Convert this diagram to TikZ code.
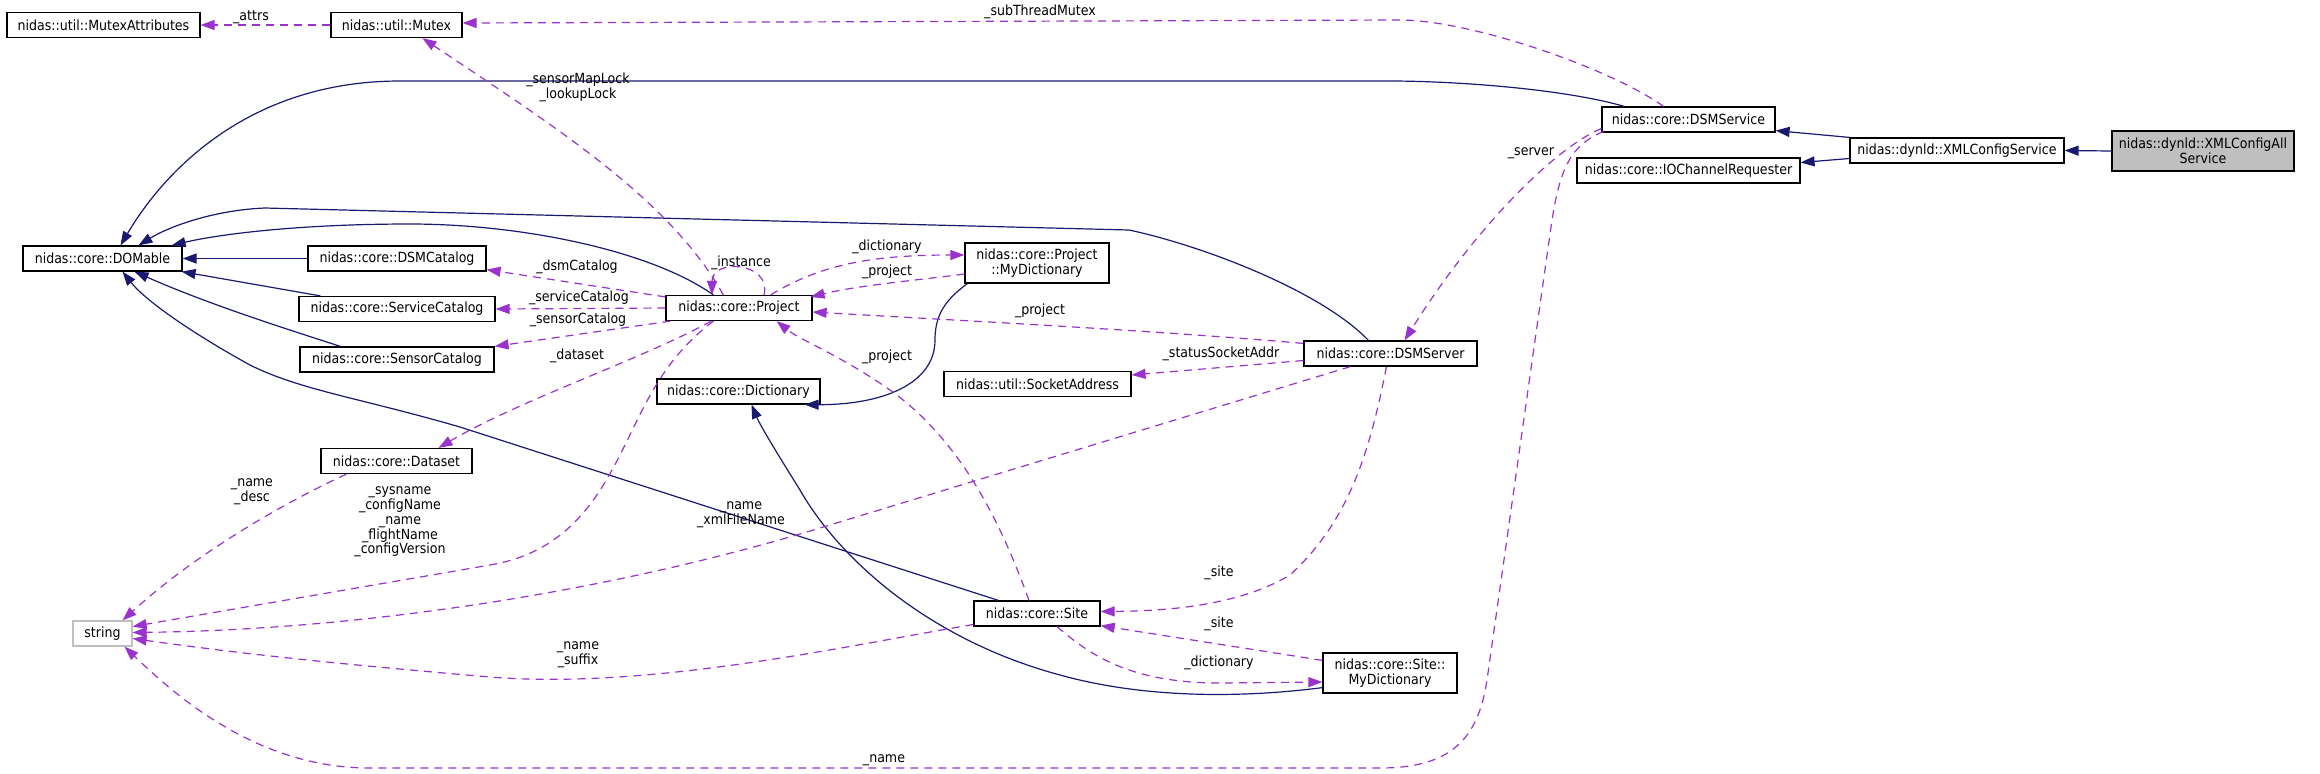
\documentclass[tikz,border=0pt]{standalone}
\usepackage{fontspec}
\setmainfont{DejaVu Sans Condensed}
\usetikzlibrary{arrows.meta,calc}
\definecolor{navy}{HTML}{191970}
\definecolor{orchid}{HTML}{9A32CD}
\definecolor{gr}{HTML}{BFBFBF}
\begin{document}
\begin{tikzpicture}[x=0.5pt,y=-0.5pt,font=\fontsize{7}{7.4}\selectfont,
  box/.style={draw=black,line width=0.6pt,fill=white,inner sep=0pt,minimum height=12.5pt,align=center},
  inh/.style={draw=navy,line width=0.6pt,-{Triangle[length=7pt,width=5pt]}},
  use/.style={draw=orchid,line width=0.6pt,dash pattern=on 4pt off 3pt,-{Triangle[length=7pt,width=5pt]}},
  lbl/.style={inner sep=0pt,align=center}]
\useasboundingbox (0,0) rectangle (2320,773);
% nodes
\node[box,minimum width=96.5pt] (mattr) at (103.5,25) {nidas::util::MutexAttributes};
\node[box,minimum width=65.5pt] (mutex) at (396.5,25) {nidas::util::Mutex};
\node[box,minimum width=86.5pt] (dsmservice) at (1688.5,119.5) {nidas::core::DSMService};
\node[box,minimum width=107pt] (xmlcs) at (1957,150.5) {nidas::dynld::XMLConfigService};
\node[box,minimum width=91pt,minimum height=20pt,fill=gr] (xmlall) at (2203,151) {nidas::dynld::XMLConfigAll\\Service};
\node[box,minimum width=111.5pt] (ioch) at (1688.5,170.5) {nidas::core::IOChannelRequester};
\node[box,minimum width=79.5pt] (domable) at (102.5,258.5) {nidas::core::DOMable};
\node[box,minimum width=89pt] (dsmcat) at (397,258.5) {nidas::core::DSMCatalog};
\node[box,minimum width=98pt] (servcat) at (397,309) {nidas::core::ServiceCatalog};
\node[box,minimum width=97pt] (senscat) at (397,359.5) {nidas::core::SensorCatalog};
\node[box,minimum width=73pt] (project) at (739,308) {nidas::core::Project};
\node[box,minimum width=72pt,minimum height=20pt] (projdict) at (1037,263) {nidas::core::Project\\::MyDictionary};
\node[box,minimum width=81.5pt] (dict) at (738.5,391.5) {nidas::core::Dictionary};
\node[box,minimum width=93.5pt] (sockaddr) at (1037.5,384) {nidas::util::SocketAddress};
\node[box,minimum width=86.5pt] (dsmserver) at (1390.5,353.5) {nidas::core::DSMServer};
\node[box,minimum width=75.5pt] (dataset) at (396.5,461) {nidas::core::Dataset};
\node[box,minimum width=29.5pt,draw=gr] (string) at (102.5,633.5) {string};
\node[box,minimum width=63pt] (site) at (1037,613.5) {nidas::core::Site};
\node[box,minimum width=67pt,minimum height=20pt] (sitedict) at (1390,673) {nidas::core::Site::\\MyDictionary};
% inheritance
\draw[inh] ($(dsmservice.north west)+(23,0)$) .. controls (1560,88) and (1450,81) .. (1390,81) -- (400,81) .. controls (250,81) and (165,170) .. ($(domable.north)+(18,0)$);
\draw[inh] ($(dsmserver.north)+(-22,0)$) .. controls (1320,290) and (1200,245) .. (1129,230) -- (265,208) .. controls (215,210) and (170,226) .. ($(domable.north)+(36,0)$);
\draw[inh] ($(project.north west)+(48,0)$) .. controls (650,250) and (520,224) .. (410,224) .. controls (300,224) and (220,234) .. ($(domable.north east)+(-11,0)$);
\draw[inh] (dsmcat.west) -- (domable.east);
\draw[inh] ($(servcat.north west)+(22,0)$) -- ($(domable.south east)+(-1,0)$);
\draw[inh] ($(senscat.north west)+(41,0)$) .. controls (290,330) and (210,305) .. ($(domable.south)+(32,0)$);
\draw[inh] ($(site.north west)+(25,0)$) -- (460,427) .. controls (360,398) and (300,390) .. (250,365) .. controls (190,332) and (145,300) .. ($(domable.south)+(20,0)$);
\draw[inh] ($(projdict.south west)+(3,0)$) .. controls (945,300) and (935,315) .. (935,340) .. controls (935,385) and (880,405) .. ($(dict.south east)+(-16,0)$);
\draw[inh] ($(sitedict.south west)+(0,-6)$) .. controls (1250,697) and (1150,700) .. (1060,675) .. controls (930,640) and (840,560) .. (800,490) .. controls (775,450) and (760,425) .. ($(dict.south)+(13,0)$);
\draw[inh] (xmlcs.north west) -- ($(dsmservice.south east)+(0,-2)$);
\draw[inh] ($(xmlcs.west)+(0,8)$) -- ($(ioch.east)+(0,-8)$);
\draw[inh] (xmlall.west) -- (xmlcs.east);
% usage
\draw[use] (mutex.west) -- (mattr.east);
\draw[use] ($(dsmservice.north)+(-25,0)$) .. controls (1610,68) and (1470,20) .. (1400,20) -- ($(mutex.east)+(0,-2)$);
\draw[use] ($(project.north west)+(58,0)$) .. controls (670,200) and (560,130) .. ($(mutex.south)+(26,0)$);
\draw[use] ($(project.north)+(25,0)$) .. controls (772,262) and (712,258) .. ($(project.north)+(-27,0)$);
\draw[use] ($(project.north west)+(0,2)$) -- ($(dsmcat.south east)+(0,-2)$);
\draw[use] (project.west) -- (servcat.east);
\draw[use] ($(project.south west)+(5,0)$) -- (senscat.north east);
\draw[use] ($(project.south west)+(46,0)$) .. controls (640,360) and (520,400) .. ($(dataset.north)+(42,0)$);
\draw[use] ($(project.north east)+(-42,0)$) .. controls (820,265) and (870,255) .. ($(projdict.west)+(0,-8)$);
\draw[use] ($(projdict.west)+(0,11)$) .. controls (920,280) and (860,285) .. ($(project.north east)+(-2,2)$);
\draw[use] ($(dsmserver.north west)+(0,3)$) .. controls (1150,330) and (950,320) .. ($(project.east)+(0,4)$);
\draw[use] ($(dsmserver.west)+(0,7)$) -- ($(sockaddr.east)+(0,-9)$);
\draw[use] ($(dsmservice.south west)+(0,-4)$) .. controls (1560,145) and (1480,220) .. ($(dsmserver.north)+(14,0)$);
\draw[use] ($(dsmservice.south west)+(2,-1)$) .. controls (1570,145) and (1560,170) .. (1552,220) -- (1487,680) .. controls (1478,740) and (1450,768) .. (1380,768) -- (370,768) .. controls (260,768) and (180,700) .. ($(string.south)+(22,0)$);
\draw[use] ($(dsmserver.south)+(-4,0)$) .. controls (1370,450) and (1350,520) .. (1290,575) .. controls (1240,605) and (1170,611) .. ($(site.east)+(0,-2)$);
\draw[use] ($(sitedict.north west)+(0,8)$) -- ($(site.south east)+(0,-1)$);
\draw[use] ($(site.south)+(20,0)$) .. controls (1090,655) and (1130,683) .. (1220,683) -- ($(sitedict.west)+(0,9)$);
\draw[use] ($(site.north)+(-8,0)$) .. controls (1000,520) and (960,440) .. (890,390) .. controls (840,355) and (800,340) .. ($(project.south east)+(-36,0)$);
\draw[use] ($(dataset.south west)+(26,0)$) .. controls (290,500) and (200,550) .. ($(string.north)+(20,0)$);
\draw[use] ($(project.south west)+(48,0)$) .. controls (655,365) and (640,420) .. (612,470) .. controls (585,520) and (550,555) .. (490,565) -- ($(string.east)+(0,-7)$);
\draw[use] ($(dsmserver.south west)+(47,0)$) -- (820,528) .. controls (600,595) and (350,630) .. ($(string.east)+(0,-1)$);
\draw[use] ($(site.west)+(0,11)$) .. controls (850,645) and (650,690) .. (490,677) .. controls (350,665) and (250,655) .. ($(string.east)+(0,5)$);
% labels
\node[lbl] (l1) at (251,17) {\_attrs};
\node[lbl] (l2) at (1040,12) {\_subThreadMutex};
\node[lbl] (l3) at (578,87) {\_sensorMapLock\\\_lookupLock};
\node[lbl] (l4) at (741,263) {\_instance};
\node[lbl] (l5) at (577,267) {\_dsmCatalog};
\node[lbl] (l6) at (579,298) {\_serviceCatalog};
\node[lbl] (l7) at (578,320) {\_sensorCatalog};
\node[lbl] (l8) at (577,356) {\_dataset};
\node[lbl] (l9) at (887,247) {\_dictionary};
\node[lbl] (l10) at (887,272) {\_project};
\node[lbl] (l11) at (1040,311) {\_project};
\node[lbl] (l12) at (887,357) {\_project};
\node[lbl] (l13) at (1221,354) {\_statusSocketAddr};
\node[lbl] (l14) at (1531,153) {\_server};
\node[lbl] (l15) at (252,492) {\_name\\\_desc};
\node[lbl] (l16) at (400,522) {\_sysname\\\_configName\\\_name\\\_flightName\\\_configVersion};
\node[lbl] (l17) at (741,515) {\_name\\\_xmlFileName};
\node[lbl] (l18) at (1219,573) {\_site};
\node[lbl] (l19) at (1219,624) {\_site};
\node[lbl] (l20) at (1219,663) {\_dictionary};
\node[lbl] (l21) at (578,655) {\_name\\\_suffix};
\node[lbl] (l22) at (884,760) {\_name};
\end{tikzpicture}
\end{document}
